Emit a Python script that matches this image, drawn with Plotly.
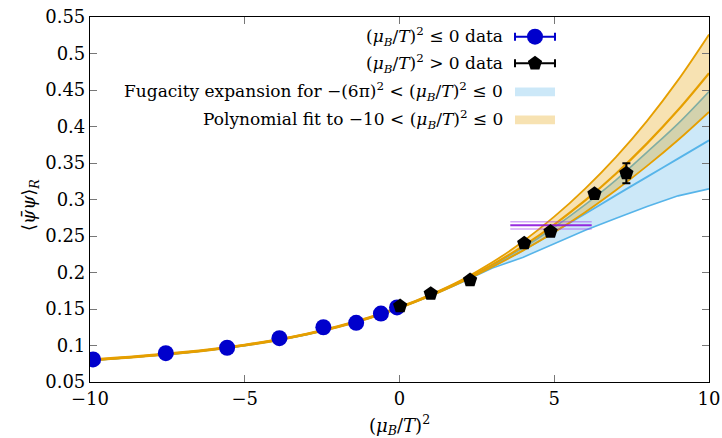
import plotly.graph_objects as go

# ---------------- data ----------------
neg_x = [-9.90, -7.55, -5.57, -3.88, -2.46, -1.40, -0.60, -0.08]
neg_y = [0.0809, 0.0895, 0.0969, 0.1100, 0.1250, 0.1310, 0.1437, 0.1522]
neg_err = [0.002, 0.002, 0.002, 0.002, 0.002, 0.002, 0.002, 0.002]

pos_x = [0.02, 1.01, 2.28, 4.03, 4.88, 6.30, 7.33]
pos_y = [0.1540, 0.1710, 0.1896, 0.2400, 0.2560, 0.3078, 0.3360]
pos_err = [0.002, 0.002, 0.002, 0.003, 0.003, 0.004, 0.0136]

grid_x = [-10, -9, -8, -7, -6, -5, -4, -3, -2, -1, 0, 1, 2, 3, 4, 5, 6, 7, 8, 9, 10]

poly_mid = [0.0800, 0.0831, 0.0865, 0.0903, 0.0949, 0.1005, 0.1073, 0.1156, 0.1257, 0.1377,
            0.1520, 0.1688, 0.1883, 0.2108, 0.2365, 0.2657, 0.2987, 0.3357, 0.3769, 0.4225, 0.4730]
poly_hi = [0.0808, 0.0839, 0.0873, 0.0911, 0.0957, 0.1013, 0.1081, 0.1164, 0.1265, 0.1385,
           0.1528, 0.1698, 0.1898, 0.2140, 0.2428, 0.2765, 0.3150, 0.3585, 0.4078, 0.4635, 0.5260]
poly_lo = [0.0792, 0.0823, 0.0857, 0.0895, 0.0941, 0.0997, 0.1065, 0.1148, 0.1249, 0.1369,
           0.1512, 0.1678, 0.1868, 0.2076, 0.2303, 0.2550, 0.2826, 0.3130, 0.3460, 0.3815, 0.4200]

fug_mid = [0.0797, 0.0828, 0.0862, 0.0900, 0.0946, 0.1002, 0.1070, 0.1153, 0.1254, 0.1374,
           0.1518, 0.1685, 0.1875, 0.2085, 0.2305, 0.2555, 0.2805, 0.3060, 0.3310, 0.3560, 0.3810]
fug_hi = [0.0802, 0.0833, 0.0867, 0.0905, 0.0951, 0.1007, 0.1075, 0.1158, 0.1259, 0.1379,
          0.1523, 0.1692, 0.1885, 0.2105, 0.2340, 0.2620, 0.2930, 0.3270, 0.3650, 0.4040, 0.4480]
fug_lo = [0.0792, 0.0823, 0.0857, 0.0895, 0.0941, 0.0997, 0.1065, 0.1148, 0.1249, 0.1369,
          0.1513, 0.1678, 0.1862, 0.2060, 0.2210, 0.2396, 0.2580, 0.2744, 0.2903, 0.3050, 0.3146]

ref_x = [3.58, 6.21]
ref_mid = 0.2647
ref_hi = 0.2696
ref_lo = 0.2596

x_ticks = [-10, -5, 0, 5, 10]
x_tick_text = ["\u221210", "\u22125", "0", "5", "10"]

legend_labels = [
    "(<i>\u03bc<sub>B</sub></i>/<i>T</i>)<sup>2</sup> \u2264 0 data",
    "(<i>\u03bc<sub>B</sub></i>/<i>T</i>)<sup>2</sup> > 0 data",
    "Fugacity expansion for \u2212(6\u03c0)<sup>2</sup> < (<i>\u03bc<sub>B</sub></i>/<i>T</i>)<sup>2</sup> \u2264 0",
    "Polynomial fit to \u221210 < (<i>\u03bc<sub>B</sub></i>/<i>T</i>)<sup>2</sup> \u2264 0",
]

# ---------------- styles ----------------
FONT = "DejaVu Serif"
BLUE_LINE = "#56B4E9"
BLUE_FILL = "rgba(86,180,233,0.30)"
ORANGE_LINE = "#E69F00"
ORANGE_FILL = "rgba(230,159,0,0.30)"
PT_BLUE = "#0000CC"

fig = go.Figure()

# fugacity band
fig.add_trace(go.Scatter(x=grid_x, y=fug_lo, mode="lines", line=dict(color=BLUE_LINE, width=1.6),
                         showlegend=False, hoverinfo="skip"))
fig.add_trace(go.Scatter(x=grid_x, y=fug_hi, mode="lines", line=dict(color=BLUE_LINE, width=1.6, shape="spline"),
                         fill="tonexty", fillcolor=BLUE_FILL, showlegend=False, hoverinfo="skip"))
fig.add_trace(go.Scatter(x=grid_x, y=fug_mid, mode="lines", line=dict(color=BLUE_LINE, width=1.8, shape="spline"),
                         showlegend=False, hoverinfo="skip"))

# polynomial band
fig.add_trace(go.Scatter(x=grid_x, y=poly_lo, mode="lines", line=dict(color=ORANGE_LINE, width=1.8, shape="spline"),
                         showlegend=False, hoverinfo="skip"))
fig.add_trace(go.Scatter(x=grid_x, y=poly_hi, mode="lines", line=dict(color=ORANGE_LINE, width=1.8, shape="spline"),
                         fill="tonexty", fillcolor=ORANGE_FILL, showlegend=False, hoverinfo="skip"))
fig.add_trace(go.Scatter(x=grid_x, y=poly_mid, mode="lines", line=dict(color=ORANGE_LINE, width=2.2, shape="spline"),
                         showlegend=False, hoverinfo="skip"))

# reference horizontal band (purple)
fig.add_trace(go.Scatter(x=ref_x, y=[ref_hi, ref_hi], mode="lines",
                         line=dict(color="rgba(160,60,240,0.45)", width=1.5), showlegend=False, hoverinfo="skip"))
fig.add_trace(go.Scatter(x=ref_x, y=[ref_lo, ref_lo], mode="lines",
                         line=dict(color="rgba(160,60,240,0.45)", width=1.5), showlegend=False, hoverinfo="skip"))
fig.add_trace(go.Scatter(x=ref_x, y=[ref_mid, ref_mid], mode="lines",
                         line=dict(color="rgba(140,20,220,0.9)", width=2), showlegend=False, hoverinfo="skip"))

# data points
fig.add_trace(go.Scatter(x=neg_x, y=neg_y, mode="markers",
                         marker=dict(symbol="circle", size=16, color=PT_BLUE),
                         error_y=dict(type="data", array=neg_err, color=PT_BLUE, thickness=1.5, width=3),
                         showlegend=False))
fig.add_trace(go.Scatter(x=pos_x, y=pos_y, mode="markers",
                         marker=dict(symbol="pentagon", size=15, color="black"),
                         error_y=dict(type="data", array=pos_err, color="black", thickness=2, width=4),
                         showlegend=False))

# ---------------- custom legend (samples to the right of the text) ----------------
row_y = [0.946, 0.873, 0.795, 0.718]
sample_x0, sample_x1 = 0.6866, 0.7512
sample_xc = (sample_x0 + sample_x1) / 2
text_x = 0.6704

fig.add_trace(go.Scatter(x=[sample_xc], y=[row_y[0]], xaxis="x2", yaxis="y2", mode="markers",
                         marker=dict(symbol="circle", size=16, color=PT_BLUE),
                         error_x=dict(type="constant", value=(sample_x1 - sample_x0) / 2, color=PT_BLUE,
                                      thickness=2, width=4),
                         showlegend=False, hoverinfo="skip"))
fig.add_trace(go.Scatter(x=[sample_xc], y=[row_y[1]], xaxis="x2", yaxis="y2", mode="markers",
                         marker=dict(symbol="pentagon", size=15, color="black"),
                         error_x=dict(type="constant", value=(sample_x1 - sample_x0) / 2, color="black",
                                      thickness=2, width=4),
                         showlegend=False, hoverinfo="skip"))

shapes = [
    dict(type="rect", xref="paper", yref="paper", x0=sample_x0, x1=sample_x1,
         y0=row_y[2] - 0.012, y1=row_y[2] + 0.012, fillcolor=BLUE_FILL, line=dict(width=0), layer="above"),
    dict(type="rect", xref="paper", yref="paper", x0=sample_x0, x1=sample_x1,
         y0=row_y[3] - 0.012, y1=row_y[3] + 0.012, fillcolor=ORANGE_FILL, line=dict(width=0), layer="above"),
]

annotations = []
for lab, yy in zip(legend_labels, row_y):
    annotations.append(dict(text=lab, xref="paper", yref="paper", x=text_x, y=yy,
                            xanchor="right", yanchor="middle", showarrow=False,
                            font=dict(family=FONT, size=17, color="black")))

annotations.append(dict(text="\u27e8<i>\u03c8\u0304\u03c8</i>\u27e9<sub><i>R</i></sub>", xref="paper", yref="paper",
                        x=-0.097, y=0.485, xanchor="center", yanchor="middle", textangle=-90,
                        showarrow=False, font=dict(family=FONT, size=18, color="black")))
annotations.append(dict(text="(<i>\u03bc<sub>B</sub></i>/<i>T</i>)<sup>2</sup>", xref="paper", yref="paper",
                        x=0.5, y=-0.118, xanchor="center", yanchor="middle",
                        showarrow=False, font=dict(family=FONT, size=18, color="black")))

axis_common = dict(showgrid=False, zeroline=False, showline=True, linecolor="black", linewidth=1.2,
                   mirror="ticks", ticks="inside", ticklen=7, tickcolor="#777777", tickwidth=1,
                   automargin=False,
                   tickfont=dict(family=FONT, size=18, color="black"))

fig.update_layout(
    width=722, height=438,
    margin=dict(l=90, r=13, t=17, b=56),
    paper_bgcolor="white", plot_bgcolor="white",
    showlegend=False,
    xaxis=dict(range=[-10, 10], tickvals=x_ticks, ticktext=x_tick_text, **axis_common),
    yaxis=dict(range=[0.05, 0.55], dtick=0.05, tick0=0.05, **axis_common),
    xaxis2=dict(range=[0, 1], overlaying="x", anchor="y2", visible=False),
    yaxis2=dict(range=[0, 1], overlaying="y", anchor="x2", visible=False),
    shapes=shapes,
    annotations=annotations,
)

fig.write_html("out.html", config={"displayModeBar": False},
               post_script="document.body.style.margin='0';document.body.style.overflow='hidden';")
